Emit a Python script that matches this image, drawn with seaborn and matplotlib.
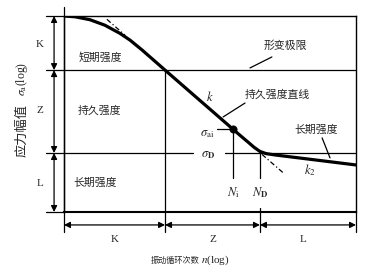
import matplotlib
matplotlib.use("Agg")
import matplotlib.pyplot as plt
import seaborn as sns
import pandas as pd

# ---- data (schematic S-N curve, x = log n scale 0..100, y = log sigma scale 0..100) ----
curve_logn = [0.0, 3.8, 8.9, 14.0, 19.2, 22.6, 26.7, 34.6, 57.9, 60.3, 63.0, 65.1, 67.1, 69.2, 72.3, 100.0]
curve_logs = [100.0, 99.6, 98.1, 95.3, 91.1, 87.7, 82.7, 72.4, 42.2, 39.1, 35.7, 33.0, 30.9, 29.8, 29.1, 24.0]
ext_top_logn = [14.7, 20.9]
ext_top_logs = [98.3, 90.2]
ext_bot_logn = [67.8, 75.3]
ext_bot_logs = [29.4, 19.7]
point_logn = [57.9]
point_logs = [42.2]
n_bounds = [0.0, 34.6, 67.1, 100.0]        # K | Z | L along x
s_bounds = [100.0, 72.4, 30.1, 0.0]        # K | Z | L along y
n_i = 57.9
zone_labels = ["K", "Z", "L"]

sns.set_theme(style="white")
plt.rcParams['font.family'] = ['Liberation Serif', 'Noto Sans CJK SC', 'DejaVu Sans']
plt.rcParams['mathtext.fontset'] = 'stix'
CJK = ['Noto Sans CJK SC', 'DejaVu Sans']

fig = plt.figure(figsize=(3.9, 2.72), dpi=100)
ax = fig.add_axes([64/390, 1-212/272, 292/390, 196/272])
ax.set_xlim(0, 100)
ax.set_ylim(0, 100)
ax.set_xticks([]); ax.set_yticks([])
for side, sp in ax.spines.items():
    sp.set_color('black'); sp.set_linewidth(1.0)
ax.spines['bottom'].set_linewidth(1.5)

df = pd.DataFrame({"n": curve_logn, "s": curve_logs})
sns.lineplot(data=df, x="n", y="s", sort=False, color="black", lw=2.3, ax=ax, estimator=None)
sns.lineplot(x=ext_top_logn, y=ext_top_logs, sort=False, color="black", lw=0.9, ax=ax,
             linestyle=(0, (4, 2, 1, 2)), estimator=None)
sns.lineplot(x=ext_bot_logn, y=ext_bot_logs, sort=False, color="black", lw=0.9, ax=ax,
             linestyle=(0, (4, 2, 1, 2)), estimator=None)
sns.scatterplot(x=point_logn, y=point_logs, color="black", s=28, ax=ax, zorder=5, edgecolor="black")
ax.set_xlabel(""); ax.set_ylabel("")

lw = 0.9
kw = dict(color="black", lw=lw, clip_on=False)
xl = -6.2
# horizontal boundary lines
ax.plot([xl, 0], [s_bounds[0]]*2, **kw)
ax.plot([xl, 100], [s_bounds[1]]*2, **kw)
ax.plot([xl, 44.2], [s_bounds[2]]*2, **kw)
ax.plot([55.1, 100], [s_bounds[2]]*2, **kw)
ax.plot([xl, 0], [s_bounds[3]]*2, **kw)
# vertical lines
yb = -10.2
ax.plot([0, 0], [104.6, yb], **kw)
ax.plot([n_bounds[1]]*2, [s_bounds[1], yb], **kw)
ax.plot([n_bounds[2]]*2, [s_bounds[2], 17.3], **kw)
ax.plot([n_bounds[2]]*2, [2.0, yb], **kw)
ax.plot([100, 100], [0, yb], **kw)
ax.plot([n_i]*2, [point_logs[0], 17.3], **kw)

# dimension arrows
ap = dict(arrowstyle='<|-|>', color='black', lw=0.9, shrinkA=0, shrinkB=0, mutation_scale=9)
for a, b in zip(s_bounds[:-1], s_bounds[1:]):
    ax.annotate('', xy=(-3.4, b), xytext=(-3.4, a), arrowprops=ap, annotation_clip=False)
for a, b in zip(n_bounds[:-1], n_bounds[1:]):
    ax.annotate('', xy=(b, -6.6), xytext=(a, -6.6), arrowprops=ap, annotation_clip=False)

# zone labels
for lab, y in zip(zone_labels, [85.7, 52.0, 14.3]):
    ax.text(-8.2, y, lab, fontsize=8, ha='center', va='center', clip_on=False)
for lab, x in zip(zone_labels, [17.5, 51.0, 81.8]):
    ax.text(x, -13.8, lab, fontsize=8, ha='center', va='center', clip_on=False)

# region texts
tk = dict(fontsize=7.8, ha='center', va='center', family=CJK)
ax.text(12.3, 78.6, "短期强度", **tk)
ax.text(12.0, 52.0, "持久强度", **tk)
ax.text(10.6, 14.8, "长期强度", **tk)
ax.text(75.7, 84.7, "形变极限", **tk)
ax.text(72.9, 59.7, "持久强度直线", **tk)
ax.text(86.3, 41.8, "长期强度", **tk)

# leader lines
ax.plot([71.2, 63.7], [79.1, 73.5], **kw)
ax.plot([62.0, 54.5], [55.6, 48.5], **kw)
ax.plot([88.4, 91.1], [37.8, 27.6], **kw)
ax.plot([52.4, 57.9], [42.2, 42.2], **kw)

# symbols
ax.text(49.0, 40.0, r"$\sigma_{\mathrm{ai}}$", fontsize=9, ha='center', va='center')
ax.text(49.3, 29.3, r"$\sigma_{\mathbf{D}}$", fontsize=9, ha='center', va='center')
ax.text(50.0, 58.7, r"$k$", fontsize=9, ha='center', va='center')
ax.text(84.2, 21.4, r"$k_2$", fontsize=9, ha='center', va='center')
ax.text(57.9, 10.0, r"$N_{\mathrm{i}}$", fontsize=9, ha='center', va='center')
ax.text(67.1, 10.0, r"$N_{\mathbf{D}}$", fontsize=9, ha='center', va='center')

# axis labels
fig.text(200/390, 1-260/272, "振动循环次数", fontsize=5.9, ha='right', va='center', family=CJK)
fig.text(201/390, 1-260/272, r"$n$(log)", fontsize=8, ha='left', va='center')
fig.text(22/390, 1-130/272, "应力幅值", fontsize=9.5, ha='center', va='center', rotation=90, family=CJK)
fig.text(22/390, 1-79/272, r"$\sigma_{\mathrm{a}}$(log)", fontsize=8.5, ha='center', va='center', rotation=90)

fig.savefig("out.png", dpi=100, facecolor="white")
